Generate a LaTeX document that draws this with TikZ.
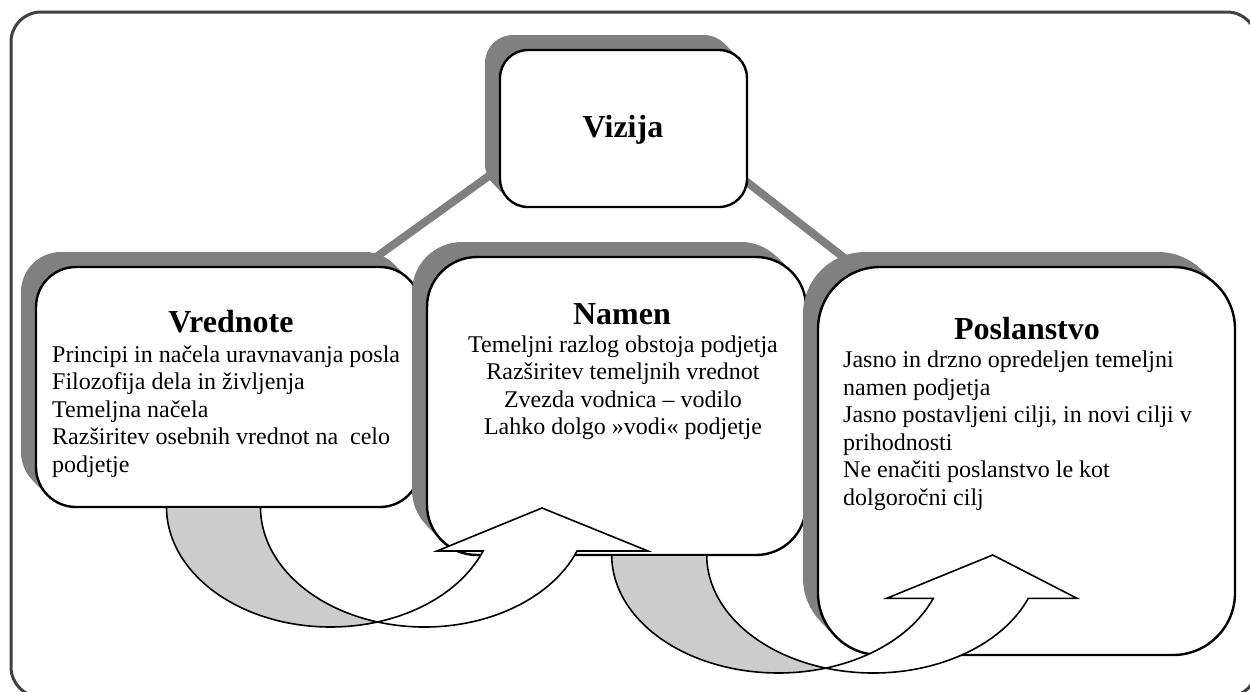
\documentclass[tikz,border=0pt]{standalone}
\usepackage{fontspec}
\setmainfont{Liberation Serif}
\usetikzlibrary{calc}

% Rounded pane with a solid grey extrusion towards the upper left.
% #1 name, #2 left, #3 top, #4 right, #5 bottom (y measured downwards), #6 corner radius
\newcommand\shadedpane[6]{%
  \foreach \k in {0,...,15}{%
    \fill[drop, rounded corners=#6pt] (#2-\k,-#3+\k) rectangle (#4-\k,-#5+\k);}
  \node[pane, rounded corners=#6pt, minimum width=#4pt-#2pt, minimum height=#5pt-#3pt]
    (#1) at ({(#2+#4)/2},{-(#3+#5)/2}) {};}

\begin{document}
\begin{tikzpicture}[x=1pt,y=1pt,
  pane/.style={draw=black, line width=2.4pt, fill=white, inner sep=0pt},
  drop/.style={fill=black!50},
  link/.style={draw=black!50, line width=8pt},
  backpart/.style={fill=black!20, draw=black, line width=1.6pt, line join=round},
  frontpart/.style={fill=white, draw=black, line width=1.6pt, line join=miter},
  heading/.style={font=\fontsize{32}{38}\selectfont\bfseries, inner sep=0pt},
  body/.style={font=\fontsize{24}{27.5}\selectfont, inner sep=0pt},
]
\useasboundingbox (0,0) rectangle (1250,-691);
\clip (0,0) rectangle (1250,-691);

% outer frame
\draw[draw=black!75, line width=3pt, rounded corners=30pt] (11,-12) rectangle (1257,-697);

% grey links from the vision box down to the side boxes
\coordinate (vizLeft)  at (525,-150);
\coordinate (vreTop)   at (340,-283);
\coordinate (vizRight) at (720,-161);
\coordinate (posTop)   at (870,-278);
\draw[link] (vizLeft) -- (vreTop);
\draw[link] (vizRight) -- (posTop);

% boxes
\shadedpane{viz}{500}{50}{747}{207}{28}
\shadedpane{vre}{36}{267}{420}{507}{40}
\shadedpane{nam}{427}{257}{806}{555}{50}

% curved arrow from Vrednote to Namen
\filldraw[backpart] (166.5,-507)
  arc[start angle=180, end angle=286.65, x radius=164pt, y radius=120pt]
  arc[start angle=253.35, end angle=180, x radius=164pt, y radius=120pt] -- cycle;
\filldraw[frontpart] ([shift={(424.5,-507)}]253.35:164pt and 120pt)
  arc[start angle=253.35, end angle=338.5, x radius=164pt, y radius=120pt]
  -- (648,-551) -- (542,-508) -- (437,-551)
  -- ([shift={(330.5,-507)}]338.5:164pt and 120pt)
  arc[start angle=338.5, end angle=286.65, x radius=164pt, y radius=120pt] -- cycle;

\shadedpane{pos}{818}{267}{1235}{655}{62}

% curved arrow from Namen to Poslanstvo
\filldraw[backpart] (611.7,-555)
  arc[start angle=180, end angle=286.57, x radius=166.6pt, y radius=118pt]
  arc[start angle=253.43, end angle=180, x radius=166.6pt, y radius=118pt] -- cycle;
\filldraw[frontpart] ([shift={(873.3,-555)}]253.43:166.6pt and 118pt)
  arc[start angle=253.43, end angle=338.47, x radius=166.6pt, y radius=118pt]
  -- (1077,-598.3) -- (992.7,-555) -- (886.7,-598.3)
  -- ([shift={(778.3,-555)}]338.47:166.6pt and 118pt)
  arc[start angle=338.47, end angle=286.57, x radius=166.6pt, y radius=118pt] -- cycle;

% texts (multi-line blocks are anchored at the baseline of their last line)
\node[heading, anchor=base] (vizTitle) at (623,-137) {Vizija};

\node[heading, anchor=base] (vreTitle) at (231,-332) {Vrednote};
\node[body, anchor=base west, align=left] (vreText) at (52,-472)
  {Principi in načela uravnavanja posla\\Filozofija dela in življenja\\Temeljna načela\\Razširitev osebnih vrednot na\ \ celo\\podjetje};

\node[heading, anchor=base] (namTitle) at (622,-324) {Namen};
\node[body, anchor=base, align=center] (namText) at (623,-434.5)
  {Temeljni razlog obstoja podjetja\\Razširitev temeljnih vrednot\\Zvezda vodnica – vodilo\\Lahko dolgo »vodi« podjetje};

\node[heading, anchor=base] (posTitle) at (1027,-339) {Poslanstvo};
\node[body, anchor=base west, align=left] (posText) at (843,-505)
  {Jasno in drzno opredeljen temeljni\\namen podjetja\\Jasno postavljeni cilji, in novi cilji v\\prihodnosti\\Ne enačiti poslanstvo le kot\\dolgoročni cilj};
\end{tikzpicture}
\end{document}
